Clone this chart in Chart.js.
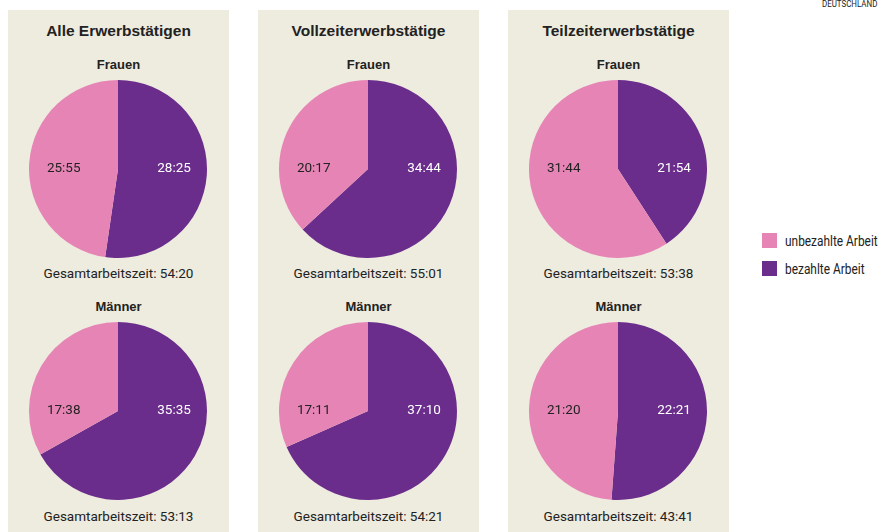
<!DOCTYPE html>
<html>
<head>
<meta charset="utf-8">
<script src="https://cdn.jsdelivr.net/npm/chart.js@4"></script>
<style>
  body { margin: 0; width: 884px; height: 532px; background: #fff; position: relative; overflow: hidden; font-family: Roboto, "Liberation Sans", sans-serif; color: #222; }
  .panel { position: absolute; top: 10px; width: 221px; height: 522px; background: #eeebdf; }
  .txt { position: absolute; left: 0; width: 221px; height: 20px; line-height: 20px; text-align: center; white-space: nowrap; }
  .title { font-family: "Liberation Sans", Arial, sans-serif; font-weight: bold; font-size: 15.5px; }
  .sub { font-family: "Liberation Sans", Arial, sans-serif; font-weight: bold; font-size: 13px; }
  .total { font-size: 13.5px; }
  canvas { position: absolute; }
  .leg { position: absolute; left: 762px; font-size: 14px; height: 16px; line-height: 16px; white-space: nowrap; }
  .leg span { display: inline-block; width: 15px; height: 15px; vertical-align: top; margin-right: 8px; }
  .leg b { display: inline-block; font-weight: normal; transform: scaleX(0.85); transform-origin: left center; }
  #country { position: absolute; left: 822px; top: -1px; font-size: 9px; white-space: nowrap; transform: scaleX(0.88); transform-origin: left center; }
</style>
</head>
<body>
<div id="country">DEUTSCHLAND</div>
<div class="leg" style="top:233px"><span style="background:#e685b5"></span><b>unbezahlte Arbeit</b></div>
<div class="leg" style="top:261px"><span style="background:#6b2d8b"></span><b>bezahlte Arbeit</b></div>
<script>
// Wochenstunden (hh:mm)
const groups = ['Alle Erwerbstätigen', 'Vollzeiterwerbstätige', 'Teilzeiterwerbstätige'];
const seriesNames = ['bezahlte Arbeit', 'unbezahlte Arbeit'];
const womenPaid = ['28:25', '34:44', '21:54'];
const womenUnpaid = ['25:55', '20:17', '31:44'];
const womenTotal = ['54:20', '55:01', '53:38'];
const menPaid = ['35:35', '37:10', '22:21'];
const menUnpaid = ['17:38', '17:11', '21:20'];
const menTotal = ['53:13', '54:21', '43:41'];

const PINK = '#e685b5';
const PURPLE = '#6b2d8b';
const panelLeft = [8, 258, 508];

function toMinutes(s) {
  const [h, m] = s.split(':').map(Number);
  return h * 60 + m;
}

// labels left/right of the pie centre, like in the original
const sliceLabels = {
  id: 'sliceLabels',
  afterDatasetsDraw(chart) {
    const ctx = chart.ctx;
    const meta = chart.getDatasetMeta(0);
    const arc = meta.data[0];
    const r = arc.outerRadius;
    const texts = chart.data.datasets[0].texts;
    ctx.save();
    ctx.font = '13.5px Roboto, "Liberation Sans", sans-serif';
    ctx.textAlign = 'center';
    ctx.textBaseline = 'middle';
    ctx.fillStyle = '#fff';
    ctx.fillText(texts[0], arc.x + r * 0.63, arc.y);
    ctx.fillStyle = '#222';
    ctx.fillText(texts[1], arc.x - r * 0.61, arc.y);
    ctx.restore();
  }
};

function addText(panel, cls, text, yc) {
  const d = document.createElement('div');
  d.className = 'txt ' + cls;
  d.style.top = (yc - 10 - 10) + 'px';
  d.textContent = text;
  panel.appendChild(d);
}

function addPie(panel, top, paid, unpaid) {
  const c = document.createElement('canvas');
  c.width = 178;
  c.height = 178;
  c.style.left = (110 - 89) + 'px';
  c.style.top = (top - 10) + 'px';
  panel.appendChild(c);
  new Chart(c, {
    type: 'pie',
    data: {
      labels: seriesNames,
      datasets: [{
        data: [toMinutes(paid), toMinutes(unpaid)],
        texts: [paid, unpaid],
        backgroundColor: [PURPLE, PINK],
        borderWidth: 0
      }]
    },
    options: {
      responsive: false,
      animation: false,
      layout: { padding: 0 },
      plugins: { legend: { display: false }, tooltip: { enabled: false } }
    },
    plugins: [sliceLabels]
  });
}

groups.forEach((g, i) => {
  const p = document.createElement('div');
  p.className = 'panel';
  p.style.left = panelLeft[i] + 'px';
  document.body.appendChild(p);
  addText(p, 'title', g, 30.5);
  addText(p, 'sub', 'Frauen', 65);
  addPie(p, 80, womenPaid[i], womenUnpaid[i]);
  addText(p, 'total', 'Gesamtarbeitszeit: ' + womenTotal[i], 272.5);
  addText(p, 'sub', 'Männer', 307);
  addPie(p, 322, menPaid[i], menUnpaid[i]);
  addText(p, 'total', 'Gesamtarbeitszeit: ' + menTotal[i], 515.5);
});
</script>
</body>
</html>
